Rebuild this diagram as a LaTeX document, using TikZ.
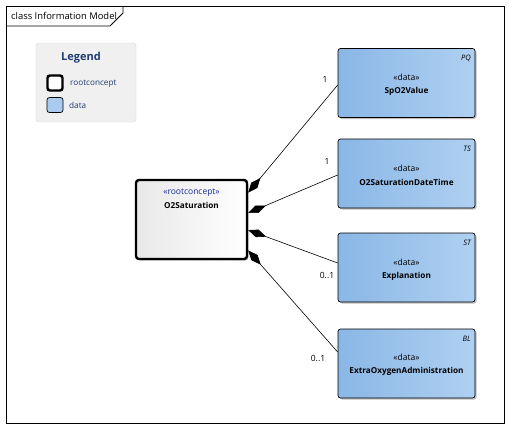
\documentclass[tikz,border=0pt]{standalone}
\usepackage{fontspec}
\setmainfont{Open Sans}
\usetikzlibrary{arrows.meta,shadows,calc}

\definecolor{dataleft}{HTML}{8AB7E6}
\definecolor{dataright}{HTML}{AFD0F1}
\definecolor{legendblue}{HTML}{1F3B73}

\begin{document}
\begin{tikzpicture}[x=1pt,y=-1pt,
    databox/.style={draw,rounded corners=2.5pt,line width=0.7pt,minimum width=137pt,minimum height=69pt,
      left color=dataleft,right color=dataright,
      drop shadow={shadow xshift=1.5pt,shadow yshift=-1.5pt,opacity=0.25,fill=black}},
    rootbox/.style={draw,rounded corners=3pt,line width=2.4pt,minimum width=111pt,minimum height=79pt,
      left color=black!9,right color=white,
      drop shadow={shadow xshift=1.5pt,shadow yshift=-1.5pt,opacity=0.25,fill=black}},
    stereo/.style={font=\fontsize{8.5}{10}\selectfont,inner sep=0pt},
    classname/.style={font=\fontsize{8.2}{10}\selectfont\bfseries,inner sep=0pt},
    tag/.style={font=\fontsize{7.5}{9}\selectfont\itshape,inner sep=0pt,anchor=east},
    mult/.style={font=\fontsize{8.5}{10}\selectfont,inner sep=0pt},
    assoc/.style={line width=0.6pt,{Diamond[length=19pt,width=8pt]}-}]
  \useasboundingbox (0,0) rectangle (510,429);

  % frame and title tab
  \draw[line width=0.8pt] (6,6) rectangle (504,423);
  \draw[line width=0.8pt] (6,26) -- (110,26) -- (123,13) -- (123,6);
  \node[anchor=west,inner sep=0pt,font=\fontsize{9.4}{11}\selectfont] (title) at (11,16) {class Information Model};

  % legend
  \node[draw=black!15,fill=black!6,rounded corners=3pt,minimum width=100pt,minimum height=79pt] (legend) at (86,82.5) {};
  \node[text=legendblue,font=\fontsize{11}{13}\selectfont\bfseries,inner sep=0pt] (legendtitle) at (81,58) {Legend};
  \node[draw,rounded corners=2.5pt,line width=2.4pt,fill=white,minimum size=15pt] (legroot) at (55,83) {};
  \node[anchor=west,text=legendblue,font=\fontsize{8.2}{10}\selectfont,inner sep=0pt] (legroottext) at (70,84) {rootconcept};
  \node[draw,rounded corners=2.5pt,line width=0.7pt,fill=dataright!80!dataleft,minimum width=16pt,minimum height=15pt] (legdata) at (55,105) {};
  \node[anchor=west,text=legendblue,font=\fontsize{8.2}{10}\selectfont,inner sep=0pt] (legdatatext) at (69,105) {data};

  % root concept
  \node[rootbox] (root) at (191.5,219.5) {};
  \node[stereo,text=legendblue!70!blue] (rootstereo) at (191.5,193) {«rootconcept»};
  \node[classname] (rootname) at (191.5,205) {O2Saturation};

  % data classes
  \node[databox] (pq) at (406.5,83) {};
  \node[stereo] at (406.5,77) {«data»};
  \node[classname] at (406.5,91) {SpO2Value};
  \node[tag] at (471,58) {PQ};

  \node[databox] (ts) at (406.5,173.5) {};
  \node[stereo] at (406.5,168) {«data»};
  \node[classname] at (406.5,182) {O2SaturationDateTime};
  \node[tag] at (471,149) {TS};

  \node[databox] (st) at (406.5,267.5) {};
  \node[stereo] at (406.5,262) {«data»};
  \node[classname] at (406.5,276) {Explanation};
  \node[tag] at (471,243) {ST};

  \node[databox] (bl) at (406.5,363.5) {};
  \node[stereo] at (406.5,357) {«data»};
  \node[classname] at (406.5,371) {ExtraOxygenAdministration};
  \node[tag] at (471,339) {BL};

  % associations
  \draw[assoc] ($(root.north east)!0.17!(root.south east)$) -- ([yshift=-2pt]pq.west);
  \draw[assoc] ($(root.north east)!0.42!(root.south east)$) -- ([yshift=-1.5pt]ts.west);
  \draw[assoc] ($(root.north east)!0.63!(root.south east)$) -- ([yshift=4.5pt]st.west);
  \draw[assoc] ($(root.north east)!0.88!(root.south east)$) -- ([yshift=11.5pt]bl.west);

  \node[mult] (m1) at (325,79) {1};
  \node[mult] (m2) at (327,161) {1};
  \node[mult] (m3) at (327,275) {0..1};
  \node[mult] (m4) at (318,358) {0..1};
\end{tikzpicture}
\end{document}
